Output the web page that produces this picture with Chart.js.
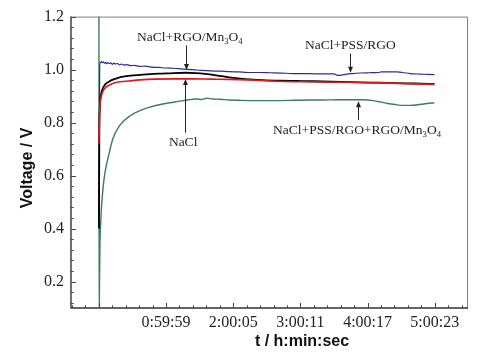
<!DOCTYPE html>
<html><head><meta charset="utf-8">
<script src="https://cdn.jsdelivr.net/npm/chart.js@4.4.1/dist/chart.umd.min.js"></script>
<style>html,body{margin:0;padding:0;background:#fff;}</style>
</head><body>
<canvas id="c" width="501" height="355"></canvas>
<script>
// ---- data (time in seconds, voltage in V) ----
const seriesNames = ['NaCl', 'NaCl+RGO/Mn3O4', 'NaCl+PSS/RGO', 'NaCl+PSS/RGO+RGO/Mn3O4'];

const tRed = [0,20,50,100,170,270,400,600,850,1150,1600,2200,3000,4000,5000,6000,7000,8000,9000,10000,11000,12000,13000,14000,15000,16000,17000,18000];
const vRed = [0.72,0.80,0.86,0.89,0.91,0.925,0.935,0.943,0.950,0.954,0.957,0.961,0.964,0.965,0.965,0.964,0.963,0.961,0.958,0.955,0.954,0.953,0.952,0.951,0.950,0.948,0.946,0.944];

const tBlack = [0,20,50,100,160,250,375,550,750,1000,1300,1700,2200,2800,3400,4000,4660,5200,5700,6200,6700,7100,7600,8100,8800,9700,10600,11500,12500,13500,14500,15500,16500,17300,18000];
const vBlack = [0.40,0.75,0.86,0.90,0.92,0.935,0.947,0.955,0.962,0.968,0.973,0.977,0.980,0.983,0.985,0.987,0.988,0.987,0.984,0.979,0.974,0.970,0.966,0.963,0.960,0.958,0.957,0.956,0.954,0.953,0.951,0.950,0.948,0.947,0.946];

const tBlue = [0,40,80,130,180,240,300,360,420,480,560,640,720,800,900,1000,1100,1200,1350,1500,1700,1900,2200,2500,2800,3200,3600,4000,4500,5000,5500,6000,6500,7000,7500,8000,8600,9200,9800,10400,11000,11600,12200,12600,12800,13000,13300,13600,14000,14500,15000,15150,15500,16000,16300,16700,17200,17600,18000];
const vBlue = [0.45,1.015,1.027,1.030,1.026,1.029,1.024,1.027,1.022,1.026,1.023,1.025,1.020,1.024,1.021,1.023,1.018,1.021,1.017,1.019,1.015,1.016,1.012,1.013,1.009,1.008,1.006,1.005,1.002,1.000,0.997,0.995,0.994,0.992,0.991,0.989,0.989,0.988,0.987,0.985,0.985,0.984,0.984,0.984,0.978,0.979,0.983,0.985,0.987,0.988,0.989,0.991,0.991,0.991,0.989,0.985,0.983,0.982,0.981];

const tGreen = [0,8,30,54,100,145,230,320,500,750,1125,1660,2200,2730,3430,4340,4800,5250,5500,5790,6100,6500,7020,7500,8360,9000,9700,10500,11300,12000,12800,13500,14200,14700,15100,15500,15900,16300,16700,17100,17500,18000];
const vGreen = [1.30,0.02,0.20,0.34,0.43,0.49,0.56,0.61,0.67,0.74,0.79,0.825,0.845,0.858,0.870,0.881,0.886,0.889,0.887,0.892,0.889,0.888,0.885,0.884,0.883,0.883,0.883,0.884,0.885,0.885,0.886,0.886,0.886,0.883,0.878,0.872,0.868,0.865,0.865,0.867,0.871,0.875];

const xTickValues = [3599, 7205, 10811, 14417, 18023];
const xTickLabels = ['0:59:59', '2:00:05', '3:00:11', '4:00:17', '5:00:23'];
const yTickValues = [0.2, 0.4, 0.6, 0.8, 1.0, 1.2];
const yTickLabels = ['0.2', '0.4', '0.6', '0.8', '1.0', '1.2'];

// ---- helpers ----
const pts = (t, v) => t.map((x, i) => ({x: x, y: v[i]}));
const SERIF = '"Liberation Serif", "Times New Roman", Times, serif';

const notes = [
  {parts: [['NaCl+RGO/Mn'], ['3', 1], ['O'], ['4', 1]], textT: 4876, textV: 1.1095, t: 4645, tail: 1.091, tip: 0.998},
  {parts: [['NaCl']], textT: 4517, textV: 0.712, t: 4608, tail: 0.762, tip: 0.964},
  {parts: [['NaCl+PSS/RGO']], textT: 13491, textV: 1.078, t: 13486, tail: 1.060, tip: 0.988},
  {parts: [['NaCl+PSS/RGO+RGO/Mn'], ['3', 1], ['O'], ['4', 1]], textT: 13850, textV: 0.758, t: 13893, tail: 0.809, tip: 0.880}
];

function drawRich(ctx, parts, cx, baseline, size) {
  let total = 0;
  parts.forEach(p => {
    ctx.font = (p[1] ? size * 0.64 : size) + 'px ' + SERIF;
    total += ctx.measureText(p[0]).width;
  });
  let x = cx - total / 2;
  ctx.textAlign = 'left';
  ctx.textBaseline = 'alphabetic';
  parts.forEach(p => {
    ctx.font = (p[1] ? size * 0.64 : size) + 'px ' + SERIF;
    ctx.fillText(p[0], x, baseline + (p[1] ? size * 0.28 : 0));
    x += ctx.measureText(p[0]).width;
  });
}

const decor = {
  id: 'decor',
  afterDraw(chart) {
    const ctx = chart.ctx;
    const a = chart.chartArea;
    const xs = chart.scales.x, ys = chart.scales.y;
    ctx.save();
    // frame
    ctx.strokeStyle = '#808080';
    ctx.lineWidth = 1;
    ctx.beginPath();
    ctx.moveTo(a.left, a.top + 0.5); ctx.lineTo(a.right + 0.5, a.top + 0.5); ctx.lineTo(a.right + 0.5, a.bottom);
    ctx.stroke();
    ctx.strokeStyle = '#333';
    ctx.lineWidth = 1.4;
    ctx.beginPath();
    ctx.moveTo(a.left, a.top); ctx.lineTo(a.left, a.bottom); ctx.lineTo(a.right + 1, a.bottom);
    ctx.stroke();
    // inward ticks
    ctx.lineWidth = 1;
    ctx.strokeStyle = '#444';
    const xStep = (xTickValues[1] - xTickValues[0]) / 5;
    ctx.beginPath();
    for (let k = -10; k < 40; k++) {
      const v = xTickValues[0] + k * xStep;
      if (v < xs.min || v > xs.max) continue;
      const px = Math.round(xs.getPixelForValue(v)) + 0.5;
      const len = (k % 5 === 0) ? 5 : 2.7;
      ctx.moveTo(px, a.bottom); ctx.lineTo(px, a.bottom - len);
    }
    const yStep = (yTickValues[1] - yTickValues[0]) / 5;
    for (let k = -5; k < 30; k++) {
      const v = yTickValues[0] + k * yStep;
      if (v < ys.min - 1e-9 || v > ys.max + 1e-9) continue;
      const py = Math.round(ys.getPixelForValue(v)) + 0.5;
      const len = (k % 5 === 0) ? 5 : 2.7;
      ctx.moveTo(a.left, py); ctx.lineTo(a.left + len, py);
    }
    ctx.stroke();
    // axis titles
    ctx.fillStyle = '#111';
    ctx.font = 'bold 16px "Liberation Sans", Arial, sans-serif';
    ctx.textAlign = 'center';
    ctx.textBaseline = 'middle';
    ctx.fillText('t / h:min:sec', 302, 342);
    ctx.save();
    ctx.translate(28, 168);
    ctx.rotate(-Math.PI / 2);
    ctx.fillText('Voltage / V', 0, 0);
    ctx.restore();
    // annotations
    ctx.fillStyle = '#222';
    ctx.strokeStyle = '#222';
    ctx.lineWidth = 1;
    notes.forEach(n => {
      drawRich(ctx, n.parts, xs.getPixelForValue(n.textT), ys.getPixelForValue(n.textV), 13.5);
      const px = Math.round(xs.getPixelForValue(n.t)) + 0.5;
      const y0 = ys.getPixelForValue(n.tail), y1 = ys.getPixelForValue(n.tip);
      const dir = y1 > y0 ? 1 : -1;
      ctx.beginPath();
      ctx.moveTo(px, y0); ctx.lineTo(px, y1 - dir * 5);
      ctx.stroke();
      ctx.beginPath();
      ctx.moveTo(px, y1); ctx.lineTo(px - 2.5, y1 - dir * 6); ctx.lineTo(px + 2.5, y1 - dir * 6);
      ctx.closePath();
      ctx.fill();
    });
    ctx.restore();
  }
};

new Chart(document.getElementById('c'), {
  type: 'line',
  data: {
    datasets: [
      {label: seriesNames[0], data: pts(tRed, vRed), borderColor: '#e8141a', borderWidth: 1.6},
      {label: seriesNames[1], data: pts(tBlack, vBlack), borderColor: '#000000', borderWidth: 1.8},
      {label: seriesNames[2], data: pts(tBlue, vBlue), borderColor: '#2b2ba0', borderWidth: 1.2},
      {label: seriesNames[3], data: pts(tGreen, vGreen), borderColor: '#3b7d5e', borderWidth: 1.4}
    ]
  },
  options: {
    responsive: false,
    animation: false,
    devicePixelRatio: 1,
    layout: {padding: {top: 14, right: 34, left: 0, bottom: 0}},
    elements: {point: {radius: 0}, line: {tension: 0, cubicInterpolationMode: 'monotone', fill: false}},
    plugins: {legend: {display: false}, tooltip: {enabled: false}},
    scales: {
      x: {
        type: 'linear', min: -1500, max: 19750,
        afterBuildTicks: s => { s.ticks = xTickValues.map(v => ({value: v})); },
        afterFit: s => { s.height = 47; },
        ticks: {
          autoSkip: false, maxRotation: 0, padding: 5, color: '#222',
          font: {family: SERIF, size: 16},
          callback: v => { const i = xTickValues.indexOf(v); return i >= 0 ? xTickLabels[i] : ''; }
        },
        grid: {display: false, drawTicks: false},
        border: {display: false}
      },
      y: {
        type: 'linear', min: 0.1, max: 1.2,
        afterBuildTicks: s => { s.ticks = yTickValues.map(v => ({value: v})); },
        afterFit: s => { s.width = 71; },
        ticks: {
          autoSkip: false, padding: 7, color: '#222',
          font: {family: SERIF, size: 16},
          callback: v => { const i = yTickValues.findIndex(q => Math.abs(q - v) < 1e-9); return i >= 0 ? yTickLabels[i] : ''; }
        },
        grid: {display: false, drawTicks: false},
        border: {display: false}
      }
    }
  },
  plugins: [decor]
});
</script>
</body></html>
